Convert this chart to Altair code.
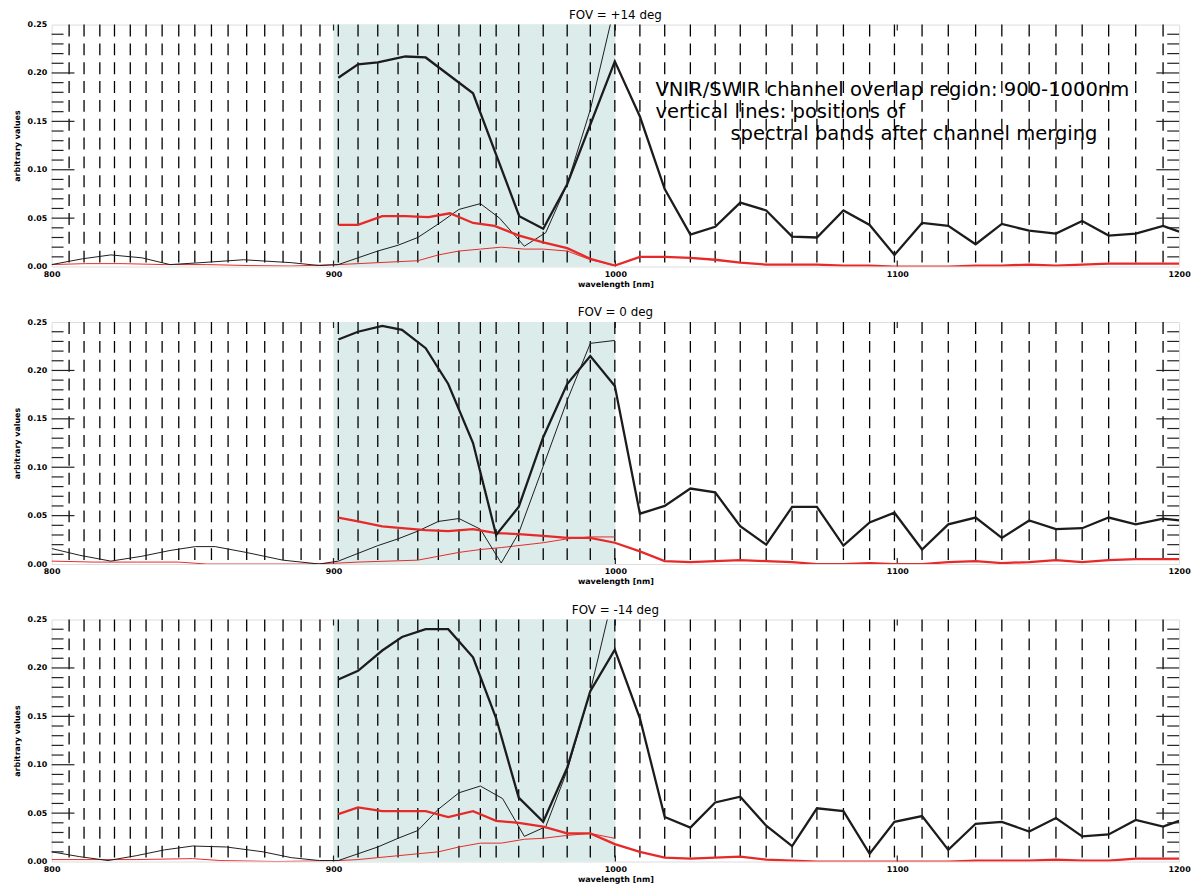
import altair as alt
import pandas as pd

# ---------------- data ----------------
X_DOMAIN = [800, 1200]
Y_DOMAIN = [0.0, 0.25]
X_TICKS = [800, 900, 1000, 1100, 1200]
Y_TICKS = [0.00, 0.05, 0.10, 0.15, 0.20, 0.25]
Y_MAJOR = [0.05, 0.10, 0.15, 0.20]
Y_MINOR = [i / 100 for i in range(1, 25) if i % 5]
X_MAJOR = [900, 1000, 1100]
OVERLAP = [900, 1000]

BANDS_VNIR = [806.2, 811.5, 817.1, 822.3, 827.9, 833.5, 839.2, 845.1, 850.8, 856.7,
              862.6, 869.2, 875.6, 882.1, 888.5, 895.2]
BANDS_OVERLAP = [901.7, 908.7, 915.7, 922.9, 929.9, 937.2, 944.5, 952.1, 957.7, 965.7,
                 974.4, 982.9, 991.1, 999.8]
BANDS_SWIR = [1008.7, 1017.5, 1026.6, 1035.4, 1044.3, 1053.5, 1062.7, 1071.5, 1080.9,
              1090.2, 1099.0, 1108.8, 1118.1, 1127.8, 1137.1, 1146.8, 1156.3, 1165.6,
              1175.0, 1184.6, 1194.3]
SWIR_X = BANDS_SWIR + [1200.0]

# ---- FOV = +14 deg
TOP_TB_X = [901.7, 908.7, 915.7, 925.5, 932.7, 949.5, 965.9, 974.4, 982.9, 999.8] + SWIR_X
TOP_TB_Y = [0.195, 0.209, 0.211, 0.217, 0.216, 0.179, 0.052, 0.039, 0.085, 0.212,
            0.155, 0.080, 0.033, 0.041, 0.066, 0.058, 0.031, 0.030, 0.058, 0.043, 0.012,
            0.045, 0.042, 0.023, 0.044, 0.037, 0.034, 0.047, 0.032, 0.034, 0.042, 0.036]
TOP_TR_X = [901.7, 908.7, 917.3, 925.5, 933.7, 941.3, 949.5, 957.1, 965.9, 974.4, 982.9,
            991.1, 999.8] + SWIR_X
TOP_TR_Y = [0.043, 0.043, 0.052, 0.052, 0.051, 0.055, 0.045, 0.042, 0.032, 0.025, 0.019,
            0.008, 0.001,
            0.010, 0.010, 0.009, 0.007, 0.004, 0.002, 0.002, 0.002, 0.001, 0.001, 0.000,
            0.000, 0.000, 0.001, 0.001, 0.002, 0.001, 0.002, 0.003, 0.003, 0.003, 0.003]
TOP_KB_X = [800, 811, 821, 832, 842, 853, 868, 885, 895, 901.7, 908.7, 915.7, 922.9,
            929.9, 937.2, 944.5, 952.1, 958.9, 967.7, 975.3, 982.9, 991.1, 999.8]
TOP_KB_Y = [0.002, 0.008, 0.012, 0.009, 0.002, 0.004, 0.007, 0.004, 0.001, 0.002, 0.009,
            0.016, 0.022, 0.030, 0.044, 0.059, 0.065, 0.050, 0.021, 0.035, 0.085, 0.162,
            0.270]
TOP_KR_X = [800, 812, 825, 840, 855, 870, 885, 901.7, 908.7, 915.7, 922.9, 929.9, 937.2,
            944.5, 952.1, 959.5, 967.7, 974.4, 982.9, 991.1, 999.8]
TOP_KR_Y = [0.002, 0.003, 0.003, 0.002, 0.002, 0.001, 0.0005, 0.002, 0.003, 0.004, 0.005,
            0.006, 0.012, 0.016, 0.018, 0.020, 0.018, 0.018, 0.016, 0.007, 0.001]

# ---- FOV = 0 deg
MID_TB_X = [901.7, 908.7, 917.3, 924.3, 932.7, 940.7, 949.5, 957.7, 965.7, 974.4, 982.9,
            991.1, 999.8] + SWIR_X
MID_TB_Y = [0.232, 0.240, 0.246, 0.242, 0.223, 0.186, 0.125, 0.030, 0.059, 0.131, 0.186,
            0.215, 0.184,
            0.052, 0.060, 0.078, 0.074, 0.039, 0.020, 0.059, 0.059, 0.019, 0.043, 0.053,
            0.015, 0.041, 0.048, 0.027, 0.045, 0.036, 0.037, 0.048, 0.041, 0.047, 0.045]
MID_TR_X = MID_TB_X
MID_TR_Y = [0.048, 0.044, 0.039, 0.037, 0.035, 0.034, 0.036, 0.032, 0.031, 0.029, 0.027,
            0.027, 0.022,
            0.013, 0.003, 0.002, 0.003, 0.004, 0.003, 0.002, 0.000, 0.000, 0.001, 0.000,
            0.000, 0.002, 0.003, 0.001, 0.002, 0.004, 0.002, 0.004, 0.005, 0.005, 0.005]
MID_KB_X = [800, 810, 821, 832, 842, 851, 858, 869, 882, 895, 901.7, 908.7, 915.7, 922.9,
            929.9, 937.2, 944.5, 952.1, 959.5, 965.7, 974.4, 982.9, 991.1, 999.8]
MID_KB_Y = [0.016, 0.009, 0.003, 0.008, 0.014, 0.018, 0.018, 0.012, 0.004, 0.000, 0.003,
            0.011, 0.019, 0.026, 0.034, 0.044, 0.047, 0.036, 0.001, 0.032, 0.101, 0.169,
            0.228, 0.231]
MID_KR_X = [800, 815, 830, 845, 855, 870, 890, 901.7, 908.7, 929.9, 937.2, 944.5, 952.1,
            959.5, 974.4, 982.9, 991.1, 999.8]
MID_KR_Y = [0.003, 0.002, 0.002, 0.002, 0.000, 0.000, 0.000, 0.001, 0.002, 0.004, 0.008,
            0.012, 0.015, 0.017, 0.022, 0.026, 0.028, 0.028]

# ---- FOV = -14 deg
BOT_TB_X = MID_TB_X
BOT_TB_Y = [0.188, 0.197, 0.218, 0.232, 0.240, 0.240, 0.211, 0.148, 0.066, 0.041, 0.097,
            0.176, 0.219,
            0.148, 0.046, 0.035, 0.061, 0.067, 0.037, 0.016, 0.055, 0.052, 0.008, 0.041,
            0.047, 0.012, 0.039, 0.041, 0.031, 0.045, 0.026, 0.028, 0.043, 0.036, 0.042]
BOT_TR_X = MID_TB_X
BOT_TR_Y = [0.049, 0.056, 0.052, 0.052, 0.052, 0.046, 0.052, 0.042, 0.040, 0.036, 0.029,
            0.029, 0.018,
            0.010, 0.004, 0.003, 0.004, 0.005, 0.002, 0.001, 0.000, 0.000, 0.000, 0.000,
            0.000, 0.000, 0.001, 0.001, 0.001, 0.002, 0.001, 0.001, 0.003, 0.003, 0.003]
BOT_KB_X = [800, 810, 820, 830, 840, 850, 862, 875, 885, 895, 901.7, 908.7, 915.7, 922.9,
            929.9, 937.2, 944.5, 952.1, 960.0, 967.7, 975.3, 982.9, 991.1, 999.8]
BOT_KB_Y = [0.010, 0.005, 0.001, 0.006, 0.012, 0.016, 0.015, 0.010, 0.004, 0.001, 0.001,
            0.008, 0.015, 0.024, 0.032, 0.054, 0.071, 0.078, 0.065, 0.026, 0.036, 0.094,
            0.176, 0.283]
BOT_KR_X = [800, 830, 850, 860, 880, 901.7, 908.7, 915.7, 922.9, 929.9, 937.2, 944.5,
            952.1, 959.5, 967.7, 974.4, 982.9, 991.1, 999.8]
BOT_KR_Y = [0.002, 0.002, 0.003, 0.001, 0.000, 0.001, 0.002, 0.004, 0.006, 0.008, 0.010,
            0.015, 0.019, 0.019, 0.023, 0.024, 0.027, 0.029, 0.024]

TITLES = ["FOV = +14 deg", "FOV = 0 deg", "FOV = -14 deg"]

NOTE_LINES = ["VNIR/SWIR channel overlap region: 900-1000nm",
              "vertical lines: positions of",
              "spectral bands after channel merging"]
NOTE_X = [1014.2, 1014.2, 1040.8]
NOTE_Y = [0.1826, 0.1593, 0.1365]

PANELS = [
    (TITLES[0], (TOP_TB_X, TOP_TB_Y), (TOP_TR_X, TOP_TR_Y), (TOP_KB_X, TOP_KB_Y), (TOP_KR_X, TOP_KR_Y), True),
    (TITLES[1], (MID_TB_X, MID_TB_Y), (MID_TR_X, MID_TR_Y), (MID_KB_X, MID_KB_Y), (MID_KR_X, MID_KR_Y), False),
    (TITLES[2], (BOT_TB_X, BOT_TB_Y), (BOT_TR_X, BOT_TR_Y), (BOT_KB_X, BOT_KB_Y), (BOT_KR_X, BOT_KR_Y), False),
]

# ---------------- style ----------------
W, H = 1137, 244
FONT = "DejaVu Sans"
SHADE = "#dbecea"
RED = "#e62a2a"
BLACK = "#1c1c1c"
PX_PER_NM = W / 400.0
PX_PER_UNIT = H / 0.25
Y_MAJ_LEN = 23 / PX_PER_NM
Y_MIN_LEN = 12 / PX_PER_NM
X_MAJ_LEN = 6 / PX_PER_UNIT

xscale = alt.Scale(domain=X_DOMAIN, nice=False, zero=False)
yscale = alt.Scale(domain=Y_DOMAIN, nice=False, zero=False)
xaxis = alt.Axis(values=X_TICKS, format="d", ticks=False, domain=False, grid=False,
                 labelFontSize=8, labelFontWeight="bold", labelFont=FONT, labelColor="black",
                 labelPadding=4, labelFlush=False, title="wavelength [nm]", titleFontSize=8,
                 titleFontWeight="bold", titleFont=FONT, titleColor="black", titlePadding=2)
yaxis = alt.Axis(values=Y_TICKS, format=".2f", ticks=False, domain=False, grid=False,
                 labelFontSize=8, labelFontWeight="bold", labelFont=FONT, labelColor="black",
                 labelPadding=5, labelFlush=False, title="arbitrary values", titleFontSize=8,
                 titleFontWeight="bold", titleFont=FONT, titleColor="black", titlePadding=6)


def X(field):
    return alt.X(field, type="quantitative", scale=xscale, axis=xaxis)


def Y(field):
    return alt.Y(field, type="quantitative", scale=yscale, axis=yaxis)


def line_layer(xy, color, width):
    df = pd.DataFrame({"wl": xy[0], "val": xy[1]})
    return alt.Chart(df).mark_line(color=color, strokeWidth=width, clip=True,
                                   strokeJoin="miter").encode(x=X("wl"), y=Y("val"))


def panel(title, tb, tr, kb, kr, note):
    shade = alt.Chart(pd.DataFrame({"x0": [OVERLAP[0]], "x1": [OVERLAP[1]],
                                    "y0": [Y_DOMAIN[0]], "y1": [Y_DOMAIN[1]]})).mark_rect(
        color=SHADE).encode(x=X("x0"), x2="x1", y=Y("y1"), y2="y0")

    bands = BANDS_VNIR + BANDS_OVERLAP + BANDS_SWIR
    dash = alt.Chart(pd.DataFrame({"wl": bands, "top": [Y_DOMAIN[1]] * len(bands),
                                   "bot": [Y_DOMAIN[0]] * len(bands)})).mark_rule(
        color="black", strokeWidth=1.3, strokeDash=[12, 7]).encode(
        x=X("wl"), y=Y("top"), y2="bot")

    ytick_rows = []
    for v in Y_MAJOR:
        ytick_rows.append({"a": X_DOMAIN[0], "b": X_DOMAIN[0] + Y_MAJ_LEN, "v": v})
        ytick_rows.append({"a": X_DOMAIN[1] - Y_MAJ_LEN, "b": X_DOMAIN[1], "v": v})
    for v in Y_MINOR:
        ytick_rows.append({"a": X_DOMAIN[0], "b": X_DOMAIN[0] + Y_MIN_LEN, "v": v})
        ytick_rows.append({"a": X_DOMAIN[1] - Y_MIN_LEN, "b": X_DOMAIN[1], "v": v})
    yticks = alt.Chart(pd.DataFrame(ytick_rows)).mark_rule(color="#222", strokeWidth=1.2).encode(
        x=X("a"), x2="b", y=Y("v"))

    xtick_rows = []
    for v in X_MAJOR:
        xtick_rows.append({"w": v, "a": Y_DOMAIN[0], "b": Y_DOMAIN[0] + X_MAJ_LEN})
        xtick_rows.append({"w": v, "a": Y_DOMAIN[1] - X_MAJ_LEN, "b": Y_DOMAIN[1]})
    xticks = alt.Chart(pd.DataFrame(xtick_rows)).mark_rule(color="#222", strokeWidth=1.2).encode(
        x=X("w"), y=Y("a"), y2="b")

    layers = [shade, dash, yticks, xticks,
              line_layer(kr, RED, 1.0),
              line_layer(kb, BLACK, 1.0),
              line_layer(tr, RED, 2.3),
              line_layer(tb, BLACK, 2.3)]
    if note:
        ndf = pd.DataFrame({"wl": NOTE_X, "val": NOTE_Y, "txt": NOTE_LINES})
        layers.append(alt.Chart(ndf).mark_text(align="left", baseline="middle", fontSize=19.7,
                                               font=FONT, color="black").encode(
            x=X("wl"), y=Y("val"), text="txt:N"))
    return alt.layer(*layers).properties(
        width=W, height=H,
        title=alt.TitleParams(title, fontSize=12, fontWeight="normal", font=FONT,
                              color="black", offset=-1, anchor="middle"))


chart = alt.vconcat(*[panel(*p) for p in PANELS], spacing=16).properties(
    padding={"left": 4, "top": -4, "right": 4, "bottom": 0}
).configure_view(stroke="#444", strokeWidth=1.5).configure(font=FONT)

chart.save("out.html", embed_options={"renderer": "svg", "actions": False})
